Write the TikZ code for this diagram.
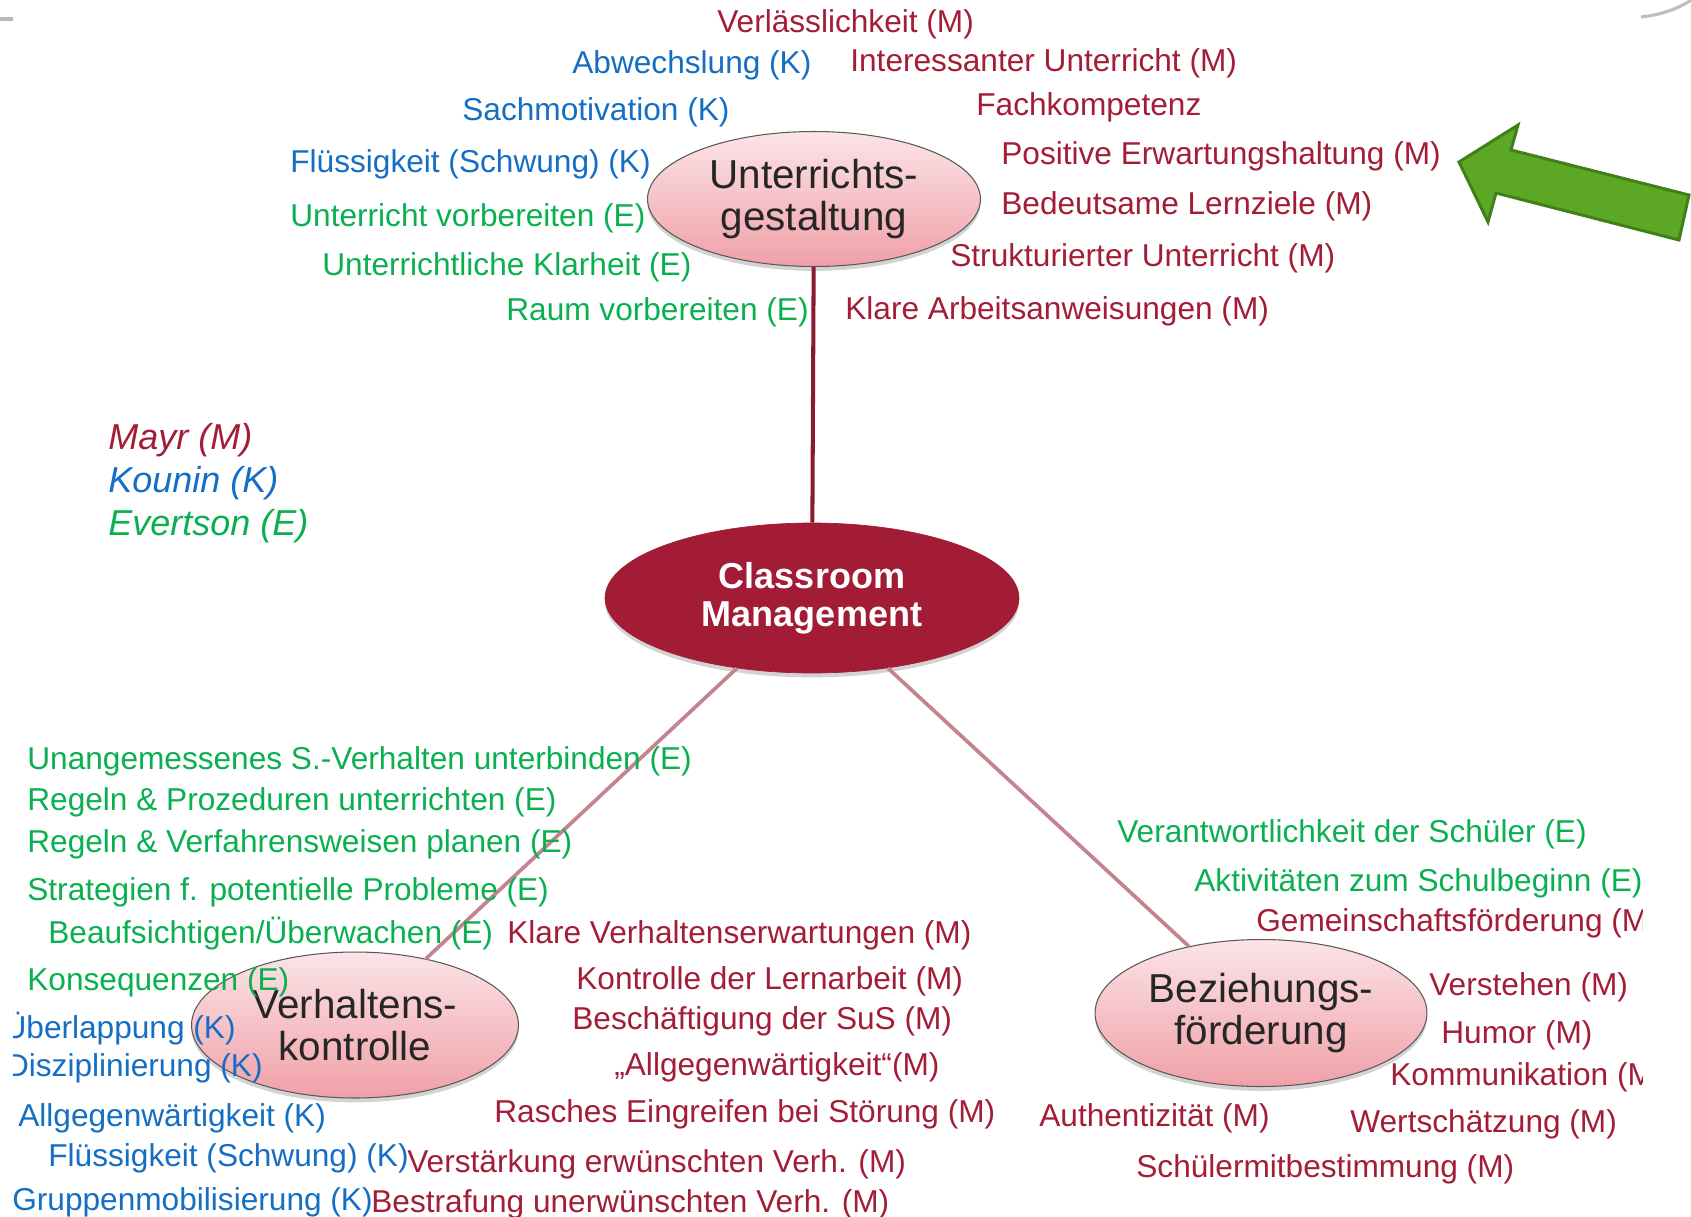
\documentclass[tikz,border=0pt]{standalone}
\usepackage{fontspec}
\setmainfont{Liberation Sans}
\usepackage{tikz}
\usetikzlibrary{shapes.geometric,shadows}

\definecolor{mred}{RGB}{163,29,54}
\definecolor{kblue}{RGB}{20,110,195}
\definecolor{egreen}{RGB}{10,176,80}
\definecolor{cmred}{RGB}{161,28,52}
\definecolor{pinktop}{RGB}{251,228,231}
\definecolor{pinkbot}{RGB}{240,160,168}
\definecolor{stemline}{RGB}{139,26,46}
\definecolor{armline}{RGB}{196,132,143}
\definecolor{arrowfill}{RGB}{92,168,36}
\definecolor{arrowdraw}{RGB}{64,128,24}

\tikzset{
  itemtext/.style={inner sep=0pt, anchor=west, yshift=-0.04cm, font=\fontsize{18}{21}\selectfont},
  mtext/.style={itemtext, text=mred},
  ktext/.style={itemtext, text=kblue},
  etext/.style={itemtext, text=egreen},
  legend/.style={inner sep=0pt, anchor=west, yshift=-0.06cm, font=\fontsize{20.5}{24}\selectfont\itshape},
  topic/.style={ellipse, draw=black!65, line width=0.6pt, top color=pinktop, bottom color=pinkbot,
    inner sep=0pt, align=center, text=black!85, font=\fontsize{23}{24}\selectfont,
    drop shadow={shadow xshift=0pt, shadow yshift=-2.5pt, opacity=0.35}},
  core/.style={ellipse, fill=cmred, draw=cmred, inner sep=0pt, align=center, text=white,
    font=\fontsize{20.5}{21.5}\selectfont\bfseries, minimum width=8.28cm, minimum height=3cm,
    drop shadow={shadow xshift=0pt, shadow yshift=-2.5pt, opacity=0.35}},
  stem/.style={stemline, line width=2.3pt},
  arm/.style={armline, line width=2.1pt}
}

\begin{document}
\begin{tikzpicture}[x=0.02cm, y=-0.02cm]
\useasboundingbox (0,0) rectangle (1691,1217);
\clip (0,0) rectangle (1691,1217);

% ellipses
\node[topic, minimum width=6.66cm, minimum height=2.7cm] (ug) at (814,199) {Unterrichts-\\gestaltung};
\node[core] (cm) at (812,598) {Classroom\\Management};
\node[topic, minimum width=6.54cm, minimum height=2.92cm] (vk) at (355,1025) {Verhaltens-\\kontrolle};
\node[topic, minimum width=6.64cm, minimum height=2.94cm] (bf) at (1261,1013) {Beziehungs-\\förderung};

\draw[stem] (ug) -- (cm);
\draw[arm] (cm) -- (vk);
\draw[arm] (cm) -- (bf);

% Unterrichtsgestaltung
\node[mtext] (t1) at (717,22) {Verlässlichkeit (M)};
\node[ktext] (t2) at (572,63) {Abwechslung (K)};
\node[mtext] (t3) at (850,61) {Interessanter Unterricht (M)};
\node[ktext] (t4) at (462,110) {Sachmotivation (K)};
\node[mtext] (t5) at (976,105) {Fachkompetenz};
\node[ktext] (t6) at (290,162) {Flüssigkeit (Schwung) (K)};
\node[mtext] (t7) at (1001,154) {Positive Erwartungshaltung (M)};
\node[etext] (t8) at (290,216) {Unterricht vorbereiten (E)};
\node[mtext] (t9) at (1001,204) {Bedeutsame Lernziele (M)};
\node[etext] (t10) at (322,265) {Unterrichtliche Klarheit (E)};
\node[mtext] (t11) at (950,256) {Strukturierter Unterricht (M)};
\node[etext] (t12) at (506,310) {Raum vorbereiten (E)};
\node[mtext] (t13) at (845,309) {Klare Arbeitsanweisungen (M)};

% legend
\node[legend, text=mred] (l1) at (108,437) {Mayr (M)};
\node[legend, text=kblue] (l2) at (108,480) {Kounin (K)};
\node[legend, text=egreen] (l3) at (108,523) {Evertson (E)};

% Verhaltenskontrolle
\begin{scope}
\clip (13,0) rectangle (1691,1217);
\node[etext] (v1) at (27,759) {Unangemessenes S.-Verhalten unterbinden (E)};
\node[etext] (v2) at (27,800) {Regeln \& Prozeduren unterrichten (E)};
\node[etext] (v3) at (27,842) {Regeln \& Verfahrensweisen planen (E)};
\node[etext] (v4) at (27,890) {Strategien f. potentielle Probleme (E)};
\node[etext] (v5) at (48,932) {Beaufsichtigen/Überwachen (E)};
\node[mtext] (v6) at (507,933) {Klare Verhaltenserwartungen (M)};
\node[etext] (v7) at (27,980) {Konsequenzen (E)};
\node[mtext] (v8) at (576,979) {Kontrolle der Lernarbeit (M)};
\node[ktext, anchor=east] (v9) at (236,1027) {Überlappung (K)};
\node[mtext] (v10) at (572,1019) {Beschäftigung der SuS (M)};
\node[ktext, anchor=east] (v11) at (263,1066) {Disziplinierung (K)};
\node[mtext] (v12) at (614,1065) {„Allgegenwärtigkeit“(M)};
\node[ktext] (v13) at (18,1116) {Allgegenwärtigkeit (K)};
\node[mtext] (v14) at (494,1112) {Rasches Eingreifen bei Störung (M)};
\node[ktext] (v15) at (48,1156) {Flüssigkeit (Schwung) (K)};
\node[mtext] (v16) at (407,1162) {Verstärkung erwünschten Verh. (M)};
\node[ktext] (v17) at (12,1200) {Gruppenmobilisierung (K)};
\node[mtext] (v18) at (371,1202) {Bestrafung unerwünschten Verh. (M)};
\end{scope}

% Beziehungsfoerderung
\begin{scope}
\clip (0,0) rectangle (1642,1217);
\node[etext] (b1) at (1117,832) {Verantwortlichkeit der Schüler (E)};
\node[etext] (b2) at (1194,881) {Aktivitäten zum Schulbeginn (E)};
\node[mtext] (b3) at (1256,921) {Gemeinschaftsförderung (M)};
\node[mtext] (b4) at (1429,985) {Verstehen (M)};
\node[mtext] (b5) at (1441,1033) {Humor (M)};
\node[mtext] (b6) at (1390,1075) {Kommunikation (M)};
\node[mtext] (b7) at (1039,1116) {Authentizität (M)};
\node[mtext] (b8) at (1350,1122) {Wertschätzung (M)};
\node[mtext] (b9) at (1136,1167) {Schülermitbestimmung (M)};
\end{scope}

% arrow
\draw[arrowdraw, fill=arrowfill, line width=1.7pt, line join=miter]
  (1459,162) -- (1518,125) -- (1511,150) -- (1689,195) -- (1679,240)
  -- (1496,193) -- (1488,222) -- cycle;

% slide edges
\draw[black!27, line width=2.2pt] (0,19) -- (13,19);
\draw[black!25, line width=1.8pt] (1641,17) .. controls (1660,15) and (1678,9) .. (1691,0);
\end{tikzpicture}
\end{document}
